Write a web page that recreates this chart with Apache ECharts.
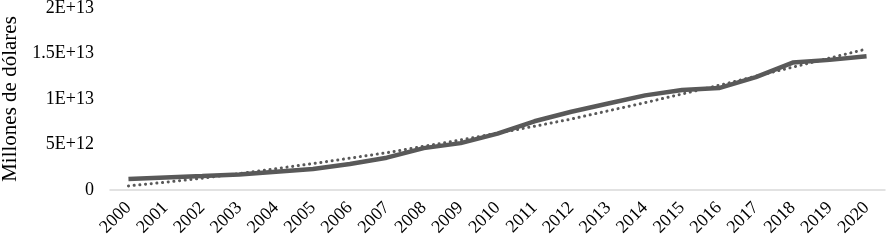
<!DOCTYPE html>
<html><head><meta charset="utf-8">
<script src="https://cdn.jsdelivr.net/npm/echarts@6/dist/echarts.min.js"></script>
<style>html,body{margin:0;padding:0;background:#fff}#c{width:887px;height:241px}</style>
</head><body><div id="c"></div>
<script>
const years = ['2000','2001','2002','2003','2004','2005','2006','2007','2008','2009','2010','2011','2012','2013','2014','2015','2016','2017','2018','2019','2020'];
const values = [1.2e12,1.37e12,1.53e12,1.7e12,2.0e12,2.3e12,2.85e12,3.55e12,4.6e12,5.15e12,6.2e12,7.55e12,8.6e12,9.5e12,10.4e12,11.0e12,11.2e12,12.4e12,14.0e12,14.3e12,14.7e12];
const trendValues = [0.45e12,0.85e12,1.3e12,1.8e12,2.35e12,2.9e12,3.5e12,4.1e12,4.8e12,5.5e12,6.25e12,7.0e12,7.8e12,8.7e12,9.6e12,10.55e12,11.5e12,12.5e12,13.5e12,14.5e12,15.5e12];
const yTickLabels = ['0','5E+12','1E+13','1.5E+13','2E+13'];
const yAxisName = 'Millones de dólares';

const font = '"Liberation Serif","Times New Roman",serif';
const chart = echarts.init(document.getElementById('c'));
chart.setOption({
  animation:false,
  grid:{left:110,right:2,top:8,bottom:51,outerBoundsMode:'none',containLabel:false},
  xAxis:{type:'category',data:years,boundaryGap:true,
    axisLine:{lineStyle:{color:'#d9d9d9',width:1.5}},
    axisTick:{show:false},
    axisLabel:{rotate:45,color:'#000',fontFamily:font,fontSize:18,margin:15,interval:0}},
  yAxis:{type:'value',min:0,max:2e13,interval:5e12,
    name:yAxisName,nameLocation:'middle',nameGap:87,nameRotate:90,
    nameTextStyle:{color:'#000',fontFamily:font,fontSize:21},
    axisLine:{show:false},axisTick:{show:false},splitLine:{show:false},
    axisLabel:{color:'#000',fontFamily:font,fontSize:18,margin:16,
      formatter:(v)=>yTickLabels[Math.round(v/5e12)]}},
  series:[
    {type:'line',data:values,symbol:'none',lineStyle:{color:'#595959',width:4.5},z:3},
    {type:'line',data:trendValues,symbol:'none',lineStyle:{color:'#595959',width:3,cap:'round',type:[0.1,5.6]},z:2}
  ]
});
</script></body></html>
